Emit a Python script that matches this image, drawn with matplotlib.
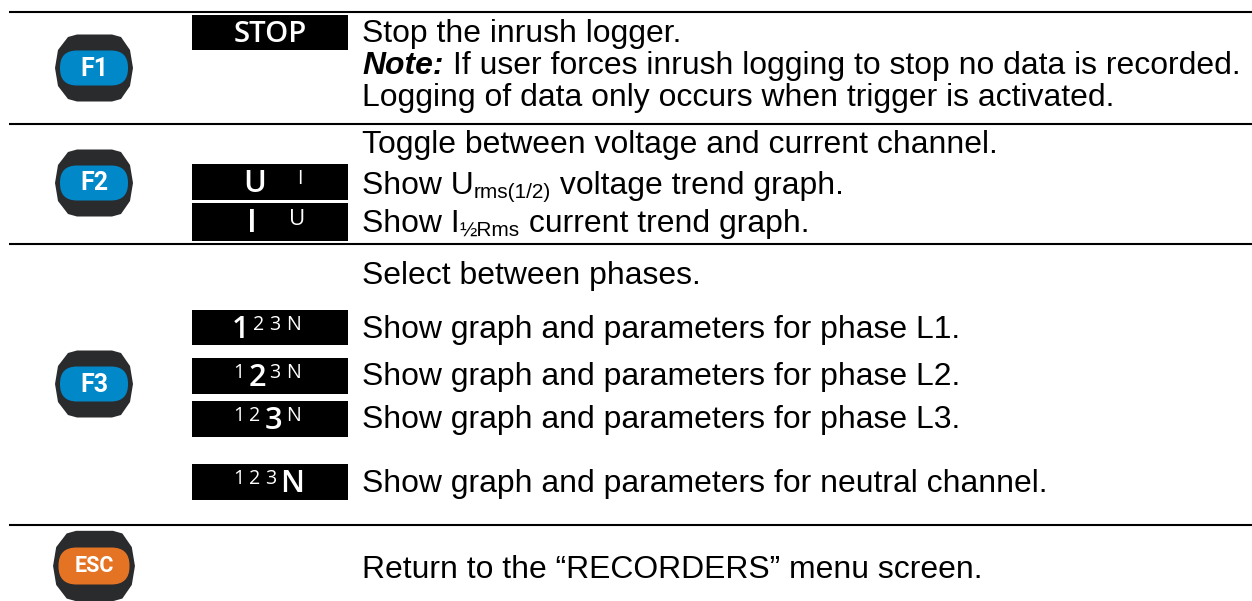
import matplotlib
matplotlib.use("Agg")
import matplotlib.pyplot as plt
from matplotlib.patches import Polygon, FancyBboxPatch, Rectangle

W, H = 1252, 601
rule_ys = [12, 124, 244, 525]

buttons = ["F1", "F2", "F3", "ESC"]
button_cy = [68, 183, 384, 566]
button_cols = ["#0088c9", "#0088c9", "#0088c9", "#e57324"]

box_rows = [(15, 50), (164, 200), (203, 241), (310, 345), (358, 394), (401, 437), (464, 500)]
# per-box glyphs: (character, centre x, top y, bottom y, big?)
box_glyphs = [
    [("STOP", 270, 21.5, 42.5, True)],
    [("U", 255, 170, 192, True), ("I", 300, 170, 184, False)],
    [("I", 252, 209, 232, True), ("U", 297, 209, 225, False)],
    [("1", 240, 316, 338, True), ("2", 259, 316, 330, False), ("3", 275, 316, 330, False), ("N", 293, 316, 330, False)],
    [("1", 239, 364, 378, False), ("2", 257, 364, 386, True), ("3", 275, 364, 378, False), ("N", 294, 364, 378, False)],
    [("1", 239, 407, 421, False), ("2", 255, 407, 421, False), ("3", 273, 407, 429, True), ("N", 294, 407, 421, False)],
    [("1", 239, 470, 484, False), ("2", 255, 470, 484, False), ("3", 271, 470, 484, False), ("N", 292, 470, 492, True)],
]

# runs: (text, style) with style n=normal, b=bold italic, s=subscript
text_lines = [
    (42, [("Stop the inrush logger.", "n")]),
    (74, [("Note:", "b"), (" If user forces inrush logging to stop no data is recorded.", "n")]),
    (106, [("Logging of data only occurs when trigger is activated.", "n")]),
    (153, [("Toggle between voltage and current channel.", "n")]),
    (194, [("Show U", "n"), ("rms(1/2)", "s"), (" voltage trend graph.", "n")]),
    (232, [("Show I", "n"), ("½Rms", "s"), (" current trend graph.", "n")]),
    (284, [("Select between phases.", "n")]),
    (338, [("Show graph and parameters for phase L1.", "n")]),
    (385, [("Show graph and parameters for phase L2.", "n")]),
    (428, [("Show graph and parameters for phase L3.", "n")]),
    (492, [("Show graph and parameters for neutral channel.", "n")]),
    (578, [("Return to the “RECORDERS” menu screen.", "n")]),
]

FONT = "Liberation Sans"
SIZE = 22.95

fig = plt.figure(figsize=(W / 100, H / 100), dpi=100, facecolor="white")
ax = fig.add_axes([0, 0, 1, 1])
ax.set_xlim(0, W)
ax.set_ylim(H, 0)
ax.axis("off")

for y in rule_ys:
    ax.plot([9, W], [y, y], color="black", lw=1.5, solid_capstyle="butt")

outline = [(-39, 0), (-36, -18), (-26, -31), (-17, -33.5), (18, -33.5), (27, -31), (36, -18), (39, 0),
           (36, 18), (27, 31), (18, 33.5), (-17, 33.5), (-26, 31), (-36, 18)]
for name, cy, col in zip(buttons, button_cy, button_cols):
    esc = name == "ESC"
    sx = 1.05 if esc else 1
    cx = 94
    ax.add_patch(Polygon([(cx + x * sx, cy + y * sx) for x, y in outline], closed=True, fc="#2a2b2d", ec="none", zorder=2))
    hw, hh = (35.5, 18.5) if esc else (34, 17.5)
    ax.add_patch(FancyBboxPatch((cx - hw, cy - hh), 2 * hw, 2 * hh,
                                boxstyle=f"round,pad=0,rounding_size={hh - 0.5}",
                                fc=col, ec="none", zorder=3))
    ax.text(cx, cy + 0.5, name, color="white", family="Roboto", weight="bold",
            fontsize=15.5 if esc else 18, ha="center", va="center", zorder=4)

for (y0, y1), glyphs in zip(box_rows, box_glyphs):
    ax.add_patch(Rectangle((192, y0), 155.5, y1 - y0, fc="black", ec="none", zorder=2))
    for ch, xc, top, bot, big in glyphs:
        ax.text(xc, bot, ch, color="white", family="Open Sans", weight="semibold" if big else "normal",
                fontsize=(bot - top) / 0.714 * 0.72, ha="center", va="baseline", zorder=3)

fig.canvas.draw()
r = fig.canvas.get_renderer()
for base, runs in text_lines:
    x = 362
    for s, style in runs:
        kw = dict(family=FONT, fontsize=SIZE, color="black", va="baseline", ha="left")
        y = base
        if style == "b":
            kw.update(weight="bold", style="italic")
        if style == "s":
            kw.update(fontsize=SIZE * 0.65)
            y = base + 4
        t = ax.text(x, y, s.replace(" ", "\u00a0"), **kw)
        x = t.get_window_extent(r).x1

fig.savefig("out.png", dpi=100)
